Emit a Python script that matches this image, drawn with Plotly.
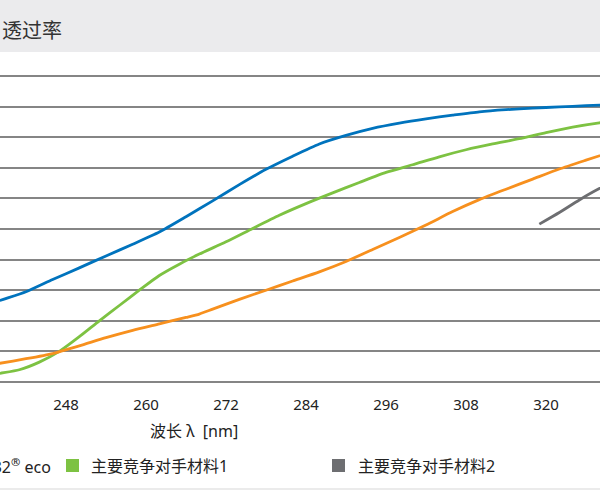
import plotly.graph_objects as go

# data (wavelength nm -> transmittance %)
wl_blue = [236, 238, 242, 246, 250, 254, 258, 262, 266, 270, 274, 278, 282, 286,
           290, 294, 298, 302, 306, 310, 314, 318, 322, 326, 330]
t_blue = [25.0, 26.6, 29.5, 33.5, 37.3, 41.2, 45.0, 49.0, 54.0, 59.2, 64.5, 69.5,
          73.8, 77.8, 80.6, 82.9, 84.6, 86.0, 87.2, 88.3, 89.0, 89.5, 89.9, 90.3, 90.6]

wl_green = [236, 238, 241, 244, 247, 250, 253, 256, 259, 262, 265, 268, 272, 276,
            280, 284, 288, 292, 296, 300, 304, 308, 312, 316, 320, 324, 328, 330]
t_green = [2.0, 2.8, 4.0, 6.5, 10.0, 14.8, 20.0, 25.0, 30.0, 34.8, 38.5, 41.8, 45.8,
           50.2, 54.5, 58.3, 61.8, 65.2, 68.5, 71.0, 73.6, 75.9, 77.8, 79.5, 81.5,
           83.3, 84.7, 85.2]

wl_orange = [236, 238, 242, 246, 250, 254, 258, 262, 266, 268, 270, 274, 278, 282,
             286, 290, 294, 298, 302, 306, 310, 314, 318, 322, 326, 330]
t_orange = [5.4, 6.1, 7.6, 9.3, 11.8, 14.5, 16.9, 19.0, 21.1, 22.2, 23.8, 27.0, 30.0,
            33.0, 36.0, 39.4, 43.3, 47.2, 51.3, 55.7, 59.6, 63.0, 66.3, 69.6, 72.5, 75.3]

wl_grey = [319, 322, 325, 328, 330, 332]
t_grey = [51.6, 55.4, 59.5, 63.2, 65.3, 67.0]

names = ["AF 32<sup>®</sup> eco", "主要竞争对手材料1", "主要竞争对手材料2"]
colors = {"blue": "#0073bd", "green": "#7dc242", "orange": "#f7901e", "grey": "#6d6e71"}

W, H = 600, 494
TOP, BOTTOM = 76, 382  # rows of the 100 % and 0 % gridlines
PAD = 3  # extra room so the edge gridlines are not dropped
FONT = "Noto Sans, Noto Sans CJK SC"


def px_x(p):
    return p / W


def px_y(p):
    # pixel row -> paper y
    return (BOTTOM + PAD - p) / (BOTTOM - TOP + 2 * PAD)


fig = go.Figure()
for wl, t, c in [(wl_blue, t_blue, "blue"), (wl_green, t_green, "green"),
                 (wl_orange, t_orange, "orange"), (wl_grey, t_grey, "grey")]:
    fig.add_trace(go.Scatter(x=wl, y=t, mode="lines", showlegend=False,
                             hoverinfo="skip",
                             line=dict(color=colors[c], width=2.8, shape="spline",
                                       smoothing=0.6)))

shapes = [
    # title band
    dict(type="rect", xref="paper", yref="paper", x0=0, x1=1,
         y0=px_y(52), y1=px_y(0), fillcolor="#ebebed", line_width=0, layer="below"),
    # bottom rule
    dict(type="line", xref="paper", yref="paper", x0=0, x1=1,
         y0=px_y(489), y1=px_y(489), line=dict(color="#e4e4e4", width=1.5)),
]
# legend squares
for x0, c in [(66 - 266, "blue"), (66, "green"), (332, "grey")]:
    shapes.append(dict(type="rect", xref="paper", yref="paper",
                       x0=px_x(x0), x1=px_x(x0 + 13), y0=px_y(472), y1=px_y(459),
                       fillcolor=colors[c], line_width=0))

annotations = [
    dict(text="透过率", x=px_x(0), y=px_y(30), xanchor="left", yanchor="middle",
         font=dict(size=20, color="#333333", family=FONT)),
    dict(text="波长 λ  [nm]", x=px_x(194), y=px_y(431), xanchor="center",
         yanchor="middle", font=dict(size=16, color="#222222", family=FONT)),
    dict(text=names[0], x=px_x(53), y=px_y(466), xanchor="right", yanchor="middle",
         font=dict(size=16, color="#222222", family=FONT)),
    dict(text=names[1], x=px_x(89), y=px_y(466), xanchor="left", yanchor="middle",
         font=dict(size=16, color="#222222", family=FONT)),
    dict(text=names[2], x=px_x(356), y=px_y(466), xanchor="left", yanchor="middle",
         font=dict(size=16, color="#222222", family=FONT)),
]
for a in annotations:
    a.update(xref="paper", yref="paper", showarrow=False)

unit = 100 / (BOTTOM - TOP)  # % per pixel
fig.update_layout(
    width=W, height=H,
    margin=dict(l=0, r=0, t=TOP - PAD, b=H - BOTTOM - PAD, pad=0),
    plot_bgcolor="white", paper_bgcolor="white",
    hovermode=False,
    shapes=shapes, annotations=annotations,
    xaxis=dict(range=[238.1, 328.1], tick0=248, dtick=12, showgrid=False,
               zeroline=False, showline=False, ticks="outside", ticklen=6,
               tickcolor="rgba(0,0,0,0)",
               tickfont=dict(size=15, color="#222222", family=FONT)),
    yaxis=dict(range=[-PAD * unit, 100 + PAD * unit], dtick=10, tick0=0,
               showgrid=True, gridcolor="#858585", gridwidth=1.8, zeroline=False,
               showticklabels=False, showline=False),
)

fig.write_html("out.html", config={"displayModeBar": False},
               post_script="document.body.style.margin='0';")
